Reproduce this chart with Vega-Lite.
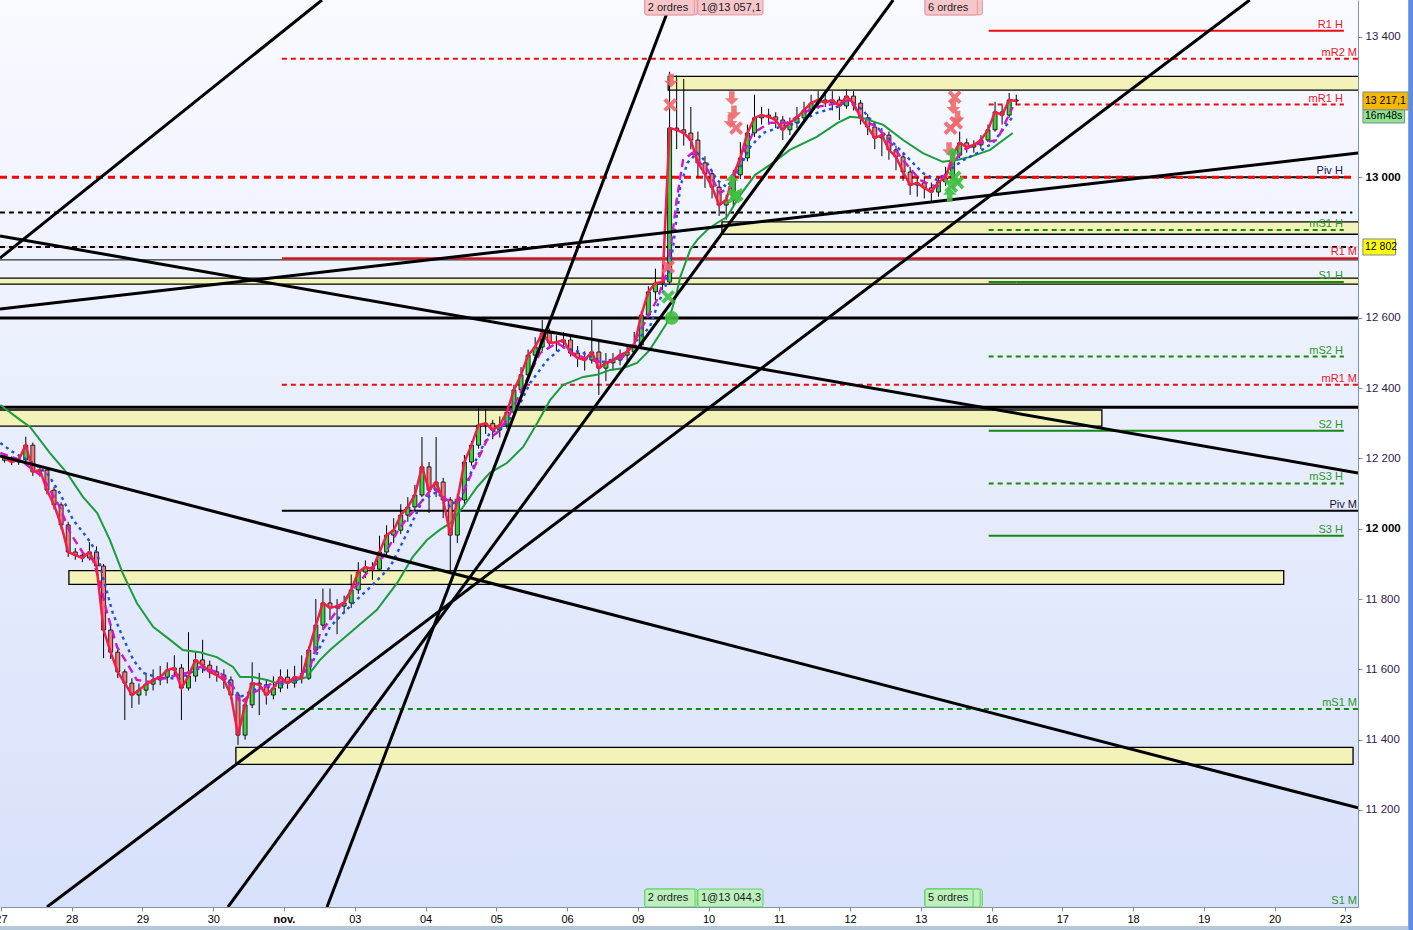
{
  "$schema": "https://vega.github.io/schema/vega-lite/v6.json",
  "description": "DAX-style intraday chart with pivot levels, zones, trend lines and moving averages",
  "width": 1358,
  "height": 907,
  "autosize": {"type": "none"},
  "padding": {"left": 0, "top": 0, "right": 55, "bottom": 23},
  "background": "#ffffff",
  "config": {"view": {"stroke": null}, "font": "Liberation Sans", "scale": {"continuousPadding": 0}},
  "datasets": {
    "candles": [
      {"t":0.05,"o":12195,"h":12212,"l":12188,"c":12201},
      {"t":0.15,"o":12201,"h":12206,"l":12181,"c":12190},
      {"t":0.25,"o":12190,"h":12205,"l":12182,"c":12196},
      {"t":0.35,"o":12196,"h":12262,"l":12192,"c":12238},
      {"t":0.45,"o":12238,"h":12245,"l":12150,"c":12162},
      {"t":0.55,"o":12162,"h":12180,"l":12148,"c":12167},
      {"t":0.65,"o":12167,"h":12172,"l":12098,"c":12110},
      {"t":0.75,"o":12110,"h":12120,"l":12055,"c":12068},
      {"t":0.85,"o":12068,"h":12075,"l":11998,"c":12011},
      {"t":0.95,"o":12011,"h":12020,"l":11920,"c":11934},
      {"t":1.05,"o":11934,"h":11945,"l":11912,"c":11925},
      {"t":1.15,"o":11925,"h":11935,"l":11905,"c":11917},
      {"t":1.25,"o":11917,"h":11962,"l":11910,"c":11934},
      {"t":1.35,"o":11934,"h":11950,"l":11880,"c":11894},
      {"t":1.45,"o":11894,"h":11900,"l":11632,"c":11712},
      {"t":1.55,"o":11712,"h":11730,"l":11630,"c":11649},
      {"t":1.65,"o":11649,"h":11660,"l":11575,"c":11593},
      {"t":1.75,"o":11593,"h":11600,"l":11456,"c":11561},
      {"t":1.85,"o":11561,"h":11575,"l":11490,"c":11527},
      {"t":1.95,"o":11527,"h":11560,"l":11500,"c":11541},
      {"t":2.05,"o":11541,"h":11590,"l":11525,"c":11558},
      {"t":2.15,"o":11558,"h":11600,"l":11540,"c":11570},
      {"t":2.25,"o":11570,"h":11610,"l":11555,"c":11578},
      {"t":2.35,"o":11578,"h":11620,"l":11560,"c":11598},
      {"t":2.45,"o":11598,"h":11640,"l":11580,"c":11604},
      {"t":2.55,"o":11604,"h":11615,"l":11456,"c":11547},
      {"t":2.65,"o":11547,"h":11706,"l":11540,"c":11581},
      {"t":2.75,"o":11581,"h":11650,"l":11565,"c":11627},
      {"t":2.85,"o":11627,"h":11684,"l":11590,"c":11612},
      {"t":2.95,"o":11612,"h":11625,"l":11575,"c":11593},
      {"t":3.05,"o":11593,"h":11610,"l":11565,"c":11584},
      {"t":3.15,"o":11584,"h":11600,"l":11545,"c":11570},
      {"t":3.25,"o":11570,"h":11580,"l":11515,"c":11527},
      {"t":3.35,"o":11527,"h":11535,"l":11385,"c":11413},
      {"t":3.45,"o":11413,"h":11510,"l":11400,"c":11499},
      {"t":3.55,"o":11499,"h":11620,"l":11490,"c":11561},
      {"t":3.65,"o":11561,"h":11590,"l":11470,"c":11556},
      {"t":3.75,"o":11556,"h":11570,"l":11500,"c":11527},
      {"t":3.85,"o":11527,"h":11580,"l":11515,"c":11547},
      {"t":3.95,"o":11547,"h":11600,"l":11535,"c":11578},
      {"t":4.05,"o":11578,"h":11600,"l":11545,"c":11561},
      {"t":4.15,"o":11561,"h":11610,"l":11548,"c":11578},
      {"t":4.25,"o":11578,"h":11640,"l":11560,"c":11575},
      {"t":4.35,"o":11575,"h":11665,"l":11570,"c":11655},
      {"t":4.45,"o":11655,"h":11800,"l":11648,"c":11726},
      {"t":4.55,"o":11726,"h":11830,"l":11715,"c":11789},
      {"t":4.65,"o":11789,"h":11830,"l":11740,"c":11775},
      {"t":4.75,"o":11775,"h":11800,"l":11700,"c":11780},
      {"t":4.85,"o":11780,"h":11810,"l":11760,"c":11789},
      {"t":4.95,"o":11789,"h":11870,"l":11775,"c":11826},
      {"t":5.05,"o":11826,"h":11905,"l":11815,"c":11877},
      {"t":5.15,"o":11877,"h":11910,"l":11860,"c":11891},
      {"t":5.25,"o":11891,"h":11905,"l":11855,"c":11885},
      {"t":5.35,"o":11885,"h":11980,"l":11880,"c":11934},
      {"t":5.45,"o":11934,"h":12010,"l":11925,"c":11982},
      {"t":5.55,"o":11982,"h":12030,"l":11960,"c":11996},
      {"t":5.65,"o":11996,"h":12070,"l":11985,"c":12039},
      {"t":5.75,"o":12039,"h":12090,"l":12020,"c":12062},
      {"t":5.85,"o":12062,"h":12125,"l":12050,"c":12096},
      {"t":5.95,"o":12096,"h":12261,"l":12090,"c":12176},
      {"t":6.05,"o":12176,"h":12190,"l":12045,"c":12110},
      {"t":6.15,"o":12110,"h":12261,"l":12090,"c":12133},
      {"t":6.25,"o":12133,"h":12145,"l":12030,"c":12082},
      {"t":6.35,"o":12082,"h":12090,"l":11883,"c":11982},
      {"t":6.45,"o":11982,"h":12100,"l":11960,"c":12082},
      {"t":6.55,"o":12082,"h":12210,"l":12070,"c":12190},
      {"t":6.65,"o":12190,"h":12250,"l":12180,"c":12238},
      {"t":6.75,"o":12238,"h":12345,"l":12228,"c":12295},
      {"t":6.85,"o":12295,"h":12340,"l":12270,"c":12300},
      {"t":6.95,"o":12300,"h":12310,"l":12255,"c":12281},
      {"t":7.05,"o":12281,"h":12320,"l":12260,"c":12295},
      {"t":7.15,"o":12295,"h":12345,"l":12285,"c":12332},
      {"t":7.25,"o":12332,"h":12410,"l":12320,"c":12395},
      {"t":7.35,"o":12395,"h":12460,"l":12385,"c":12438},
      {"t":7.45,"o":12438,"h":12510,"l":12425,"c":12494},
      {"t":7.55,"o":12494,"h":12545,"l":12480,"c":12517},
      {"t":7.65,"o":12517,"h":12594,"l":12505,"c":12557},
      {"t":7.75,"o":12557,"h":12570,"l":12515,"c":12529},
      {"t":7.85,"o":12529,"h":12550,"l":12505,"c":12531},
      {"t":7.95,"o":12531,"h":12560,"l":12515,"c":12537},
      {"t":8.05,"o":12537,"h":12550,"l":12490,"c":12500},
      {"t":8.15,"o":12500,"h":12520,"l":12460,"c":12486},
      {"t":8.25,"o":12486,"h":12505,"l":12450,"c":12480},
      {"t":8.35,"o":12480,"h":12594,"l":12470,"c":12503},
      {"t":8.45,"o":12503,"h":12540,"l":12381,"c":12457},
      {"t":8.55,"o":12457,"h":12500,"l":12420,"c":12472},
      {"t":8.65,"o":12472,"h":12500,"l":12450,"c":12480},
      {"t":8.75,"o":12480,"h":12510,"l":12465,"c":12494},
      {"t":8.85,"o":12494,"h":12520,"l":12475,"c":12503},
      {"t":8.95,"o":12503,"h":12560,"l":12495,"c":12523},
      {"t":9.05,"o":12523,"h":12620,"l":12515,"c":12608},
      {"t":9.15,"o":12608,"h":12690,"l":12600,"c":12674},
      {"t":9.25,"o":12674,"h":12740,"l":12650,"c":12699},
      {"t":9.35,"o":12699,"h":12756,"l":12680,"c":12702},
      {"t":9.45,"o":12702,"h":13300,"l":12695,"c":13140},
      {"t":9.55,"o":13140,"h":13290,"l":13080,"c":13135},
      {"t":9.65,"o":13135,"h":13280,"l":13090,"c":13126},
      {"t":9.75,"o":13126,"h":13200,"l":13080,"c":13106},
      {"t":9.85,"o":13106,"h":13130,"l":13000,"c":13041},
      {"t":9.95,"o":13041,"h":13060,"l":12970,"c":13010},
      {"t":10.05,"o":13010,"h":13020,"l":12940,"c":12972},
      {"t":10.15,"o":12972,"h":12985,"l":12890,"c":12921},
      {"t":10.25,"o":12921,"h":12950,"l":12879,"c":12935},
      {"t":10.35,"o":12935,"h":13020,"l":12920,"c":13007},
      {"t":10.45,"o":13007,"h":13100,"l":12995,"c":13055},
      {"t":10.55,"o":13055,"h":13150,"l":13045,"c":13126},
      {"t":10.65,"o":13126,"h":13235,"l":13115,"c":13169},
      {"t":10.75,"o":13169,"h":13200,"l":13150,"c":13177},
      {"t":10.85,"o":13177,"h":13195,"l":13150,"c":13172},
      {"t":10.95,"o":13172,"h":13185,"l":13140,"c":13163},
      {"t":11.05,"o":13163,"h":13175,"l":13106,"c":13135},
      {"t":11.15,"o":13135,"h":13170,"l":13120,"c":13155},
      {"t":11.25,"o":13155,"h":13200,"l":13140,"c":13169},
      {"t":11.35,"o":13169,"h":13215,"l":13160,"c":13191},
      {"t":11.45,"o":13191,"h":13235,"l":13180,"c":13211},
      {"t":11.55,"o":13211,"h":13245,"l":13195,"c":13220},
      {"t":11.65,"o":13220,"h":13240,"l":13200,"c":13212},
      {"t":11.75,"o":13212,"h":13245,"l":13190,"c":13220},
      {"t":11.85,"o":13220,"h":13230,"l":13163,"c":13203},
      {"t":11.95,"o":13203,"h":13250,"l":13195,"c":13231},
      {"t":12.05,"o":13231,"h":13245,"l":13190,"c":13211},
      {"t":12.15,"o":13211,"h":13220,"l":13150,"c":13169},
      {"t":12.25,"o":13169,"h":13180,"l":13120,"c":13143},
      {"t":12.35,"o":13143,"h":13150,"l":13080,"c":13112},
      {"t":12.45,"o":13112,"h":13140,"l":13060,"c":13120},
      {"t":12.55,"o":13120,"h":13130,"l":13050,"c":13078},
      {"t":12.65,"o":13078,"h":13090,"l":13020,"c":13058},
      {"t":12.75,"o":13058,"h":13070,"l":12990,"c":13015},
      {"t":12.85,"o":13015,"h":13030,"l":12950,"c":12978},
      {"t":12.95,"o":12978,"h":13000,"l":12945,"c":12984},
      {"t":13.05,"o":12984,"h":13000,"l":12940,"c":12970},
      {"t":13.15,"o":12970,"h":12985,"l":12930,"c":12958},
      {"t":13.25,"o":12958,"h":13000,"l":12945,"c":12987},
      {"t":13.35,"o":12987,"h":13030,"l":12975,"c":12998},
      {"t":13.45,"o":12998,"h":13075,"l":12990,"c":13063},
      {"t":13.55,"o":13063,"h":13130,"l":13055,"c":13098},
      {"t":13.65,"o":13098,"h":13110,"l":13070,"c":13086},
      {"t":13.75,"o":13086,"h":13105,"l":13070,"c":13092},
      {"t":13.85,"o":13092,"h":13120,"l":13080,"c":13106},
      {"t":13.95,"o":13106,"h":13150,"l":13100,"c":13135},
      {"t":14.05,"o":13135,"h":13215,"l":13130,"c":13186},
      {"t":14.15,"o":13186,"h":13205,"l":13150,"c":13177},
      {"t":14.25,"o":13177,"h":13240,"l":13170,"c":13220},
      {"t":14.35,"o":13220,"h":13235,"l":13205,"c":13217}
    ],
    "ma": [
      {"s":"g","t":-0.01,"v":12352},{"s":"g","t":0.27,"v":12310},{"s":"g","t":0.41,"v":12290},{"s":"g","t":0.69,"v":12216},
      {"s":"g","t":0.93,"v":12159},{"s":"g","t":1.16,"v":12090},{"s":"g","t":1.36,"v":12045},{"s":"g","t":1.54,"v":11968},
      {"s":"g","t":1.72,"v":11874},{"s":"g","t":1.92,"v":11789},{"s":"g","t":2.15,"v":11721},{"s":"g","t":2.39,"v":11684},
      {"s":"g","t":2.57,"v":11655},{"s":"g","t":2.81,"v":11649},{"s":"g","t":3.05,"v":11635},{"s":"g","t":3.28,"v":11607},
      {"s":"g","t":3.38,"v":11578},{"s":"g","t":3.56,"v":11578},{"s":"g","t":3.76,"v":11570},{"s":"g","t":3.9,"v":11561},
      {"s":"g","t":4.08,"v":11564},{"s":"g","t":4.32,"v":11578},{"s":"g","t":4.51,"v":11627},{"s":"g","t":4.65,"v":11655},
      {"s":"g","t":4.98,"v":11712},{"s":"g","t":5.31,"v":11769},{"s":"g","t":5.6,"v":11846},{"s":"g","t":5.82,"v":11920},
      {"s":"g","t":6.02,"v":11968},{"s":"g","t":6.2,"v":11997},{"s":"g","t":6.35,"v":12016},{"s":"g","t":6.53,"v":12062},
      {"s":"g","t":6.73,"v":12119},{"s":"g","t":6.91,"v":12159},{"s":"g","t":7.15,"v":12187},{"s":"g","t":7.38,"v":12233},
      {"s":"g","t":7.58,"v":12301},{"s":"g","t":7.76,"v":12366},{"s":"g","t":7.94,"v":12409},{"s":"g","t":8.23,"v":12432},
      {"s":"g","t":8.42,"v":12438},{"s":"g","t":8.61,"v":12452},{"s":"g","t":8.79,"v":12457},{"s":"g","t":8.99,"v":12472},
      {"s":"g","t":9.17,"v":12509},{"s":"g","t":9.41,"v":12585},{"s":"g","t":9.48,"v":12622},{"s":"g","t":9.55,"v":12671},
      {"s":"g","t":9.6,"v":12716},{"s":"g","t":9.74,"v":12793},{"s":"g","t":9.84,"v":12822},{"s":"g","t":9.98,"v":12850},
      {"s":"g","t":10.12,"v":12870},{"s":"g","t":10.26,"v":12887},{"s":"g","t":10.45,"v":12950},{"s":"g","t":10.66,"v":13007},
      {"s":"g","t":10.91,"v":13041},{"s":"g","t":11.15,"v":13078},{"s":"g","t":11.53,"v":13115},{"s":"g","t":11.82,"v":13154},
      {"s":"g","t":12.0,"v":13172},{"s":"g","t":12.18,"v":13169},{"s":"g","t":12.47,"v":13149},{"s":"g","t":12.75,"v":13106},
      {"s":"g","t":13.03,"v":13069},{"s":"g","t":13.31,"v":13044},{"s":"g","t":13.51,"v":13049},{"s":"g","t":13.7,"v":13058},
      {"s":"g","t":13.98,"v":13078},{"s":"g","t":14.3,"v":13126},
      {"s":"b","t":-0.01,"v":12244},{"s":"b","t":0.17,"v":12218},{"s":"b","t":0.45,"v":12187},{"s":"b","t":0.65,"v":12159},
      {"s":"b","t":0.83,"v":12102},{"s":"b","t":1.02,"v":12025},{"s":"b","t":1.22,"v":11974},{"s":"b","t":1.36,"v":11931},
      {"s":"b","t":1.44,"v":11863},{"s":"b","t":1.58,"v":11760},{"s":"b","t":1.72,"v":11692},{"s":"b","t":1.87,"v":11627},
      {"s":"b","t":2.01,"v":11590},{"s":"b","t":2.25,"v":11575},{"s":"b","t":2.53,"v":11575},{"s":"b","t":2.81,"v":11604},
      {"s":"b","t":3.05,"v":11584},{"s":"b","t":3.24,"v":11561},{"s":"b","t":3.38,"v":11521},{"s":"b","t":3.56,"v":11541},
      {"s":"b","t":3.76,"v":11550},{"s":"b","t":3.94,"v":11556},{"s":"b","t":4.18,"v":11570},{"s":"b","t":4.37,"v":11607},
      {"s":"b","t":4.51,"v":11664},{"s":"b","t":4.65,"v":11721},{"s":"b","t":4.98,"v":11789},{"s":"b","t":5.22,"v":11834},
      {"s":"b","t":5.5,"v":11891},{"s":"b","t":5.74,"v":11988},{"s":"b","t":5.96,"v":12082},{"s":"b","t":6.16,"v":12105},
      {"s":"b","t":6.35,"v":12062},{"s":"b","t":6.53,"v":12102},{"s":"b","t":6.73,"v":12204},{"s":"b","t":6.91,"v":12273},
      {"s":"b","t":7.1,"v":12290},{"s":"b","t":7.29,"v":12338},{"s":"b","t":7.48,"v":12415},{"s":"b","t":7.72,"v":12480},
      {"s":"b","t":7.94,"v":12517},{"s":"b","t":8.23,"v":12500},{"s":"b","t":8.51,"v":12475},{"s":"b","t":8.79,"v":12489},
      {"s":"b","t":8.99,"v":12537},{"s":"b","t":9.17,"v":12574},{"s":"b","t":9.27,"v":12631},{"s":"b","t":9.41,"v":12699},
      {"s":"b","t":9.5,"v":12802},{"s":"b","t":9.55,"v":12887},{"s":"b","t":9.6,"v":12972},{"s":"b","t":9.7,"v":13041},
      {"s":"b","t":9.84,"v":13069},{"s":"b","t":9.98,"v":13041},{"s":"b","t":10.12,"v":12992},{"s":"b","t":10.26,"v":12972},
      {"s":"b","t":10.4,"v":13012},{"s":"b","t":10.59,"v":13086},{"s":"b","t":10.77,"v":13126},{"s":"b","t":11.01,"v":13143},
      {"s":"b","t":11.25,"v":13154},{"s":"b","t":11.53,"v":13183},{"s":"b","t":11.82,"v":13200},{"s":"b","t":12.0,"v":13220},
      {"s":"b","t":12.18,"v":13191},{"s":"b","t":12.38,"v":13143},{"s":"b","t":12.61,"v":13098},{"s":"b","t":12.85,"v":13049},
      {"s":"b","t":13.03,"v":13012},{"s":"b","t":13.23,"v":12992},{"s":"b","t":13.41,"v":13021},{"s":"b","t":13.6,"v":13049},
      {"s":"b","t":13.8,"v":13069},{"s":"b","t":14.02,"v":13098},{"s":"b","t":14.3,"v":13172},
      {"s":"m","t":-0.01,"v":12216},{"s":"m","t":0.27,"v":12196},{"s":"m","t":0.59,"v":12147},{"s":"m","t":0.83,"v":12062},
      {"s":"m","t":0.98,"v":11988},{"s":"m","t":1.16,"v":11931},{"s":"m","t":1.3,"v":11911},{"s":"m","t":1.4,"v":11846},
      {"s":"m","t":1.5,"v":11760},{"s":"m","t":1.64,"v":11664},{"s":"m","t":1.78,"v":11618},{"s":"m","t":1.92,"v":11570},
      {"s":"m","t":2.11,"v":11564},{"s":"m","t":2.35,"v":11578},{"s":"m","t":2.63,"v":11590},{"s":"m","t":2.81,"v":11607},
      {"s":"m","t":3.1,"v":11590},{"s":"m","t":3.28,"v":11550},{"s":"m","t":3.38,"v":11504},{"s":"m","t":3.56,"v":11533},
      {"s":"m","t":3.84,"v":11561},{"s":"m","t":4.13,"v":11570},{"s":"m","t":4.37,"v":11607},{"s":"m","t":4.51,"v":11703},
      {"s":"m","t":4.65,"v":11740},{"s":"m","t":4.89,"v":11806},{"s":"m","t":5.17,"v":11874},{"s":"m","t":5.4,"v":11920},
      {"s":"m","t":5.64,"v":12005},{"s":"m","t":5.88,"v":12062},{"s":"m","t":6.11,"v":12119},{"s":"m","t":6.3,"v":12082},
      {"s":"m","t":6.49,"v":12082},{"s":"m","t":6.67,"v":12167},{"s":"m","t":6.87,"v":12253},{"s":"m","t":7.01,"v":12273},
      {"s":"m","t":7.15,"v":12310},{"s":"m","t":7.38,"v":12403},{"s":"m","t":7.62,"v":12500},{"s":"m","t":7.86,"v":12529},
      {"s":"m","t":8.08,"v":12500},{"s":"m","t":8.33,"v":12480},{"s":"m","t":8.57,"v":12472},{"s":"m","t":8.79,"v":12489},
      {"s":"m","t":8.99,"v":12546},{"s":"m","t":9.17,"v":12614},{"s":"m","t":9.27,"v":12651},{"s":"m","t":9.41,"v":12728},
      {"s":"m","t":9.48,"v":12822},{"s":"m","t":9.55,"v":12935},{"s":"m","t":9.64,"v":13049},{"s":"m","t":9.77,"v":13069},
      {"s":"m","t":9.88,"v":13041},{"s":"m","t":9.99,"v":13021},{"s":"m","t":10.16,"v":12955},{"s":"m","t":10.3,"v":12972},
      {"s":"m","t":10.49,"v":13069},{"s":"m","t":10.63,"v":13126},{"s":"m","t":10.87,"v":13155},{"s":"m","t":11.11,"v":13155},
      {"s":"m","t":11.34,"v":13183},{"s":"m","t":11.53,"v":13200},{"s":"m","t":11.82,"v":13211},{"s":"m","t":12.0,"v":13220},
      {"s":"m","t":12.18,"v":13163},{"s":"m","t":12.38,"v":13143},{"s":"m","t":12.57,"v":13098},{"s":"m","t":12.75,"v":13049},
      {"s":"m","t":12.99,"v":12992},{"s":"m","t":13.23,"v":12972},{"s":"m","t":13.41,"v":13029},{"s":"m","t":13.6,"v":13078},
      {"s":"m","t":13.84,"v":13098},{"s":"m","t":14.08,"v":13106},{"s":"m","t":14.3,"v":13200}
    ],
    "levels": [
      {"lab":"","k":"thin","t0":-0.0141,"t1":19.18,"v":12765},
      {"lab":"","k":"pink","t0":-0.0141,"t1":19.18,"v":12802},
      {"lab":"R1 H","k":"res","t0":13.96,"t1":18.98,"v":13417},
      {"lab":"mR2 M","k":"resd","t0":3.97,"t1":19.18,"v":13337},
      {"lab":"mR1 H","k":"resd","t0":13.96,"t1":18.98,"v":13207},
      {"lab":"Piv H","k":"piv","t0":13.96,"t1":18.98,"v":13000},
      {"lab":"","k":"blkd","t0":-0.0141,"t1":19.1,"v":12900},
      {"lab":"mS1 H","k":"supd","t0":13.96,"t1":18.98,"v":12850},
      {"lab":"","k":"blkd","t0":-0.0141,"t1":19.1,"v":12802},
      {"lab":"R1 M","k":"res","t0":3.97,"t1":19.18,"v":12770},
      {"lab":"S1 H","k":"sup","t0":13.96,"t1":18.98,"v":12702},
      {"lab":"mS2 H","k":"supd","t0":13.96,"t1":18.98,"v":12490},
      {"lab":"mR1 M","k":"resd","t0":3.97,"t1":19.18,"v":12410},
      {"lab":"S2 H","k":"sup","t0":13.96,"t1":18.98,"v":12279},
      {"lab":"mS3 H","k":"supd","t0":13.96,"t1":18.98,"v":12129},
      {"lab":"Piv M","k":"piv","t0":3.97,"t1":19.18,"v":12051},
      {"lab":"S3 H","k":"sup","t0":13.96,"t1":18.98,"v":11980},
      {"lab":"mS1 M","k":"supd","t0":3.97,"t1":19.18,"v":11487},
      {"lab":"S1 M","k":"sup","t0":19.18,"t1":19.18,"v":10924},
      {"lab":"","k":"resd3","t0":-0.0141,"t1":19.1,"v":13000},
      {"lab":"","k":"thick","t0":-0.0141,"t1":19.18,"v":12600},
      {"lab":"","k":"thick","t0":-0.0141,"t1":19.18,"v":12346}
    ],
    "zones": [
      {"t0":9.43,"t1":19.6,"v0":13248,"v1":13287},
      {"t0":10.19,"t1":19.6,"v0":12838,"v1":12873},
      {"t0":-0.05,"t1":19.6,"v0":12696,"v1":12713},
      {"t0":-0.05,"t1":15.56,"v0":12292,"v1":12338},
      {"t0":0.96,"t1":18.13,"v0":11842,"v1":11881},
      {"t0":3.32,"t1":19.11,"v0":11330,"v1":11378}
    ],
    "trends": [
      {"id":"A","t":-0.0141,"v":12770},{"id":"A","t":4.537,"v":13504.4},
      {"id":"B","t":-0.0141,"v":12833},{"id":"B","t":19.18,"v":12159},
      {"id":"C","t":-0.0141,"v":12625},{"id":"C","t":19.18,"v":13069},
      {"id":"D","t":-0.0141,"v":12207},{"id":"D","t":19.18,"v":11206},
      {"id":"E","t":0.65,"v":10924},{"id":"E","t":17.65,"v":13504.4},
      {"id":"F","t":3.208,"v":10924},{"id":"F","t":12.61,"v":13504.4},
      {"id":"G","t":4.608,"v":10924},{"id":"G","t":9.484,"v":13504.4}
    ],
    "signals": [
      {"g":"sd","t":9.47,"v":13275},{"g":"sx","t":9.46,"v":13206},{"g":"sx","t":9.43,"v":12745},
      {"g":"sd","t":10.33,"v":13225},{"g":"sd","t":10.36,"v":13185},{"g":"sd","t":10.31,"v":13160},{"g":"sx","t":10.39,"v":13140},
      {"g":"sx","t":13.48,"v":13228},{"g":"sd","t":13.46,"v":13200},{"g":"sd","t":13.52,"v":13170},{"g":"sx","t":13.42,"v":13140},
      {"g":"sx","t":13.5,"v":13155},{"g":"sd","t":13.4,"v":13080},
      {"g":"bx","t":9.43,"v":12660},{"g":"bo","t":9.48,"v":12600},
      {"g":"bu","t":10.33,"v":12990},{"g":"bx","t":10.36,"v":12945},{"g":"bx","t":10.4,"v":12950},
      {"g":"bu","t":13.45,"v":13065},{"g":"bx","t":13.48,"v":13000},{"g":"bx","t":13.43,"v":12975},
      {"g":"bu","t":13.41,"v":12950},{"g":"bx","t":13.52,"v":12985}
    ],
    "orders": [
      {"p":"top","lab":"","t0":9.1,"t1":9.84,"v0":13462,"v1":13508,"vt":13483},
      {"p":"top","lab":"2 ordres","t0":9.1,"t1":9.8,"v0":13462,"v1":13508,"vt":13483},
      {"p":"top","lab":"1@13 057,1","t0":9.85,"t1":10.77,"v0":13462,"v1":13508,"vt":13483},
      {"p":"top","lab":"","t0":13.06,"t1":13.87,"v0":13462,"v1":13508,"vt":13483},
      {"p":"top","lab":"6 ordres","t0":13.06,"t1":13.8,"v0":13462,"v1":13508,"vt":13483},
      {"p":"bot","lab":"","t0":9.1,"t1":9.84,"v0":10924,"v1":10975,"vt":10950},
      {"p":"bot","lab":"2 ordres","t0":9.1,"t1":9.81,"v0":10924,"v1":10975,"vt":10950},
      {"p":"bot","lab":"1@13 044,3","t0":9.85,"t1":10.77,"v0":10924,"v1":10975,"vt":10950},
      {"p":"bot","lab":"","t0":13.06,"t1":13.87,"v0":10924,"v1":10975,"vt":10950},
      {"p":"bot","lab":"","t0":13.06,"t1":13.84,"v0":10924,"v1":10975,"vt":10950},
      {"p":"bot","lab":"5 ordres","t0":13.06,"t1":13.74,"v0":10924,"v1":10975,"vt":10950}
    ],
    "tags": [
      {"id":"last","lab":"13 217,1","t0":19.25,"t1":19.89,"v0":13191.5,"v1":13242.7,"vc":13217},
      {"id":"timer","lab":"16m48s","t0":19.25,"t1":19.84,"v0":13154.5,"v1":13191.5,"vc":13173},
      {"id":"mark","lab":"12 802","t0":19.25,"t1":19.71,"v0":12779,"v1":12824.5,"vc":12802}
    ]
  },
  "layer": [
    {
      "data": {"values": [{"t0": -0.0141, "t1": 19.18, "v0": 10924, "v1": 13504.4}]},
      "mark": {"type": "rect", "color": {"gradient": "linear", "x1": 0, "y1": 0, "x2": 0, "y2": 1, "stops": [{"offset": 0, "color": "#f8faff"}, {"offset": 1, "color": "#d8e1fb"}]}},
      "encoding": {
        "x": {"field": "t0", "type": "quantitative", "scale": {"domain": [-0.0141, 19.18], "nice": false, "zero": false, "padding": 0},
          "axis": {"orient": "bottom", "values": [0,1,2,3,4,5,6,7,8,9,10,11,12,13,14,15,16,17,18,19], "title": null, "grid": false,
            "domainColor": "#7f93a6", "tickColor": "#7f93a6", "tickSize": 4, "labelPadding": 2, "labelFlush": false, "labelOverlap": false,
            "labelFont": "Liberation Sans", "labelFontSize": 11, "labelColor": "#000000",
            "labelFontWeight": {"condition": {"test": "datum.value == 4", "value": "bold"}, "value": "normal"},
            "labelExpr": "['27','28','29','30','nov.','03','04','05','06','09','10','11','12','13','16','17','18','19','20','23'][datum.value]",
            "zindex": 1}},
        "x2": {"field": "t1"},
        "y": {"field": "v0", "type": "quantitative", "scale": {"domain": [10924, 13504.4], "nice": false, "zero": false, "padding": 0},
          "axis": {"orient": "right", "values": [11200,11400,11600,11800,12000,12200,12400,12600,13000,13400], "title": null, "grid": false,
            "domainColor": "#7f93a6", "tickColor": "#7f93a6", "tickSize": 4, "labelPadding": 3,
            "labelFont": "Liberation Sans", "labelFontSize": 11.5,
            "labelColor": {"condition": {"test": "datum.value % 1000 == 0", "value": "#000000"}, "value": "#33184f"},
            "labelFontWeight": {"condition": {"test": "datum.value % 1000 == 0", "value": "bold"}, "value": "normal"},
            "labelExpr": "replace(format(datum.value, ','), ',', ' ')",
            "zindex": 1}},
        "y2": {"field": "v1"}
      }
    },
    {
      "data": {"name": "zones"},
      "mark": {"type": "rect", "fill": "#f3f3b9", "stroke": "#000000", "strokeWidth": 1.3, "clip": true},
      "encoding": {
        "x": {"field": "t0", "type": "quantitative", "scale": {"domain": [-0.0141, 19.18], "nice": false, "zero": false, "padding": 0}},
        "x2": {"field": "t1"},
        "y": {"field": "v0", "type": "quantitative", "scale": {"domain": [10924, 13504.4], "nice": false, "zero": false, "padding": 0}},
        "y2": {"field": "v1"}
      }
    },
    {
      "data": {"name": "levels"},
      "transform": [{"filter": "datum.k == 'thin' || datum.k == 'pink'"}],
      "mark": {"type": "rule", "strokeWidth": 1},
      "encoding": {
        "x": {"field": "t0", "type": "quantitative", "scale": {"domain": [-0.0141, 19.18], "nice": false, "zero": false, "padding": 0}},
        "x2": {"field": "t1"},
        "y": {"field": "v", "type": "quantitative", "scale": {"domain": [10924, 13504.4], "nice": false, "zero": false, "padding": 0}},
        "color": {"field": "k", "type": "nominal", "legend": null, "scale": {"domain": ["res","resd","resd3","sup","supd","piv","blkd","thin","thick","pink"], "range": ["#f00a14","#f00a14","#ff0000","#138a13","#138a13","#000000","#000000","#000000","#000000","#f4a3ac"]}}
      }
    },
    {
      "data": {"name": "levels"},
      "transform": [{"filter": "datum.k != 'thin' && datum.k != 'pink' && datum.k != 'thick' && datum.k != 'resd3'"}],
      "mark": {"type": "rule", "strokeWidth": 2},
      "encoding": {
        "x": {"field": "t0", "type": "quantitative", "scale": {"domain": [-0.0141, 19.18], "nice": false, "zero": false, "padding": 0}},
        "x2": {"field": "t1"},
        "y": {"field": "v", "type": "quantitative", "scale": {"domain": [10924, 13504.4], "nice": false, "zero": false, "padding": 0}},
        "color": {"field": "k", "type": "nominal", "legend": null, "scale": {"domain": ["res","resd","resd3","sup","supd","piv","blkd","thin","thick","pink"], "range": ["#f00a14","#f00a14","#ff0000","#138a13","#138a13","#000000","#000000","#000000","#000000","#f4a3ac"]}},
        "strokeDash": {"field": "k", "type": "nominal", "legend": null, "scale": {"domain": ["res","resd","resd3","sup","supd","piv","blkd","thin","thick","pink"], "range": [[1,0],[5,4],[7,5],[1,0],[5,4],[1,0],[5,4],[1,0],[1,0],[1,0]]}}
      }
    },
    {
      "data": {"name": "levels"},
      "transform": [{"filter": "datum.k == 'thick' || datum.k == 'resd3'"}],
      "mark": {"type": "rule", "strokeWidth": 3},
      "encoding": {
        "x": {"field": "t0", "type": "quantitative", "scale": {"domain": [-0.0141, 19.18], "nice": false, "zero": false, "padding": 0}},
        "x2": {"field": "t1"},
        "y": {"field": "v", "type": "quantitative", "scale": {"domain": [10924, 13504.4], "nice": false, "zero": false, "padding": 0}},
        "color": {"field": "k", "type": "nominal", "legend": null, "scale": {"domain": ["res","resd","resd3","sup","supd","piv","blkd","thin","thick","pink"], "range": ["#f00a14","#f00a14","#ff0000","#138a13","#138a13","#000000","#000000","#000000","#000000","#f4a3ac"]}},
        "strokeDash": {"field": "k", "type": "nominal", "legend": null, "scale": {"domain": ["res","resd","resd3","sup","supd","piv","blkd","thin","thick","pink"], "range": [[1,0],[5,4],[7,5],[1,0],[5,4],[1,0],[5,4],[1,0],[1,0],[1,0]]}}
      }
    },
    {
      "data": {"name": "candles"},
      "mark": {"type": "rule", "color": "#000000", "strokeWidth": 1},
      "encoding": {
        "x": {"field": "t", "type": "quantitative", "scale": {"domain": [-0.0141, 19.18], "nice": false, "zero": false, "padding": 0}},
        "y": {"field": "l", "type": "quantitative", "scale": {"domain": [10924, 13504.4], "nice": false, "zero": false, "padding": 0}},
        "y2": {"field": "h"}
      }
    },
    {
      "data": {"name": "candles"},
      "mark": {"type": "bar", "width": 4, "stroke": "#000000", "strokeWidth": 0.8},
      "encoding": {
        "x": {"field": "t", "type": "quantitative", "scale": {"domain": [-0.0141, 19.18], "nice": false, "zero": false, "padding": 0}},
        "y": {"field": "o", "type": "quantitative", "scale": {"domain": [10924, 13504.4], "nice": false, "zero": false, "padding": 0}},
        "y2": {"field": "c"},
        "fill": {"condition": {"test": "datum.c >= datum.o", "value": "#3ccf3c"}, "value": "#f27a7a"}
      }
    },
    {
      "data": {"name": "ma"},
      "transform": [{"filter": "datum.s == 'g'"}],
      "mark": {"type": "line", "color": "#1c9c3c", "strokeWidth": 2, "clip": true},
      "encoding": {
        "x": {"field": "t", "type": "quantitative", "scale": {"domain": [-0.0141, 19.18], "nice": false, "zero": false, "padding": 0}},
        "y": {"field": "v", "type": "quantitative", "scale": {"domain": [10924, 13504.4], "nice": false, "zero": false, "padding": 0}}
      }
    },
    {
      "data": {"name": "ma"},
      "transform": [{"filter": "datum.s == 'b'"}],
      "mark": {"type": "line", "color": "#1f4fe0", "strokeWidth": 2.4, "strokeDash": [3, 4], "clip": true},
      "encoding": {
        "x": {"field": "t", "type": "quantitative", "scale": {"domain": [-0.0141, 19.18], "nice": false, "zero": false, "padding": 0}},
        "y": {"field": "v", "type": "quantitative", "scale": {"domain": [10924, 13504.4], "nice": false, "zero": false, "padding": 0}}
      }
    },
    {
      "data": {"name": "ma"},
      "transform": [{"filter": "datum.s == 'm'"}],
      "mark": {"type": "line", "color": "#cc19cc", "strokeWidth": 2.4, "strokeDash": [8, 5], "clip": true},
      "encoding": {
        "x": {"field": "t", "type": "quantitative", "scale": {"domain": [-0.0141, 19.18], "nice": false, "zero": false, "padding": 0}},
        "y": {"field": "v", "type": "quantitative", "scale": {"domain": [10924, 13504.4], "nice": false, "zero": false, "padding": 0}}
      }
    },
    {
      "data": {"name": "candles"},
      "mark": {"type": "line", "color": "#f51d48", "strokeWidth": 2.5, "clip": true},
      "encoding": {
        "x": {"field": "t", "type": "quantitative", "scale": {"domain": [-0.0141, 19.18], "nice": false, "zero": false, "padding": 0}},
        "y": {"field": "c", "type": "quantitative", "scale": {"domain": [10924, 13504.4], "nice": false, "zero": false, "padding": 0}}
      }
    },
    {
      "data": {"name": "trends"},
      "mark": {"type": "line", "color": "#000000", "strokeWidth": 3, "clip": true},
      "encoding": {
        "x": {"field": "t", "type": "quantitative", "scale": {"domain": [-0.0141, 19.18], "nice": false, "zero": false, "padding": 0}},
        "y": {"field": "v", "type": "quantitative", "scale": {"domain": [10924, 13504.4], "nice": false, "zero": false, "padding": 0}},
        "detail": {"field": "id", "type": "nominal"}
      }
    },
    {
      "data": {"name": "signals"},
      "mark": {"type": "point", "filled": true, "opacity": 0.9, "size": 190},
      "encoding": {
        "x": {"field": "t", "type": "quantitative", "scale": {"domain": [-0.0141, 19.18], "nice": false, "zero": false, "padding": 0}},
        "y": {"field": "v", "type": "quantitative", "scale": {"domain": [10924, 13504.4], "nice": false, "zero": false, "padding": 0}},
        "shape": {"field": "g", "type": "nominal", "legend": null, "scale": {"domain": ["sx","sd","bx","bu","bo"], "range": [
          "M-1,-0.6L-0.6,-1L0,-0.4L0.6,-1L1,-0.6L0.4,0L1,0.6L0.6,1L0,0.4L-0.6,1L-1,0.6L-0.4,0Z",
          "M-0.4,-1L0.4,-1L0.4,0L1,0L0,1L-1,0L-0.4,0Z",
          "M-1,-0.6L-0.6,-1L0,-0.4L0.6,-1L1,-0.6L0.4,0L1,0.6L0.6,1L0,0.4L-0.6,1L-1,0.6L-0.4,0Z",
          "M-0.4,1L0.4,1L0.4,0L1,0L0,-1L-1,0L-0.4,0Z",
          "circle"]}},
        "color": {"field": "g", "type": "nominal", "legend": null, "scale": {"domain": ["sx","sd","bx","bu","bo"], "range": ["#f0666c","#ee6a6a","#3fbf3f","#3fbf3f","#3fbf3f"]}}
      }
    },
    {
      "data": {"name": "levels"},
      "transform": [{"filter": "datum.lab != ''"}],
      "mark": {"type": "text", "align": "right", "baseline": "bottom", "dx": -1, "dy": -1, "font": "Liberation Sans", "fontSize": 11},
      "encoding": {
        "x": {"field": "t1", "type": "quantitative", "scale": {"domain": [-0.0141, 19.18], "nice": false, "zero": false, "padding": 0}},
        "y": {"field": "v", "type": "quantitative", "scale": {"domain": [10924, 13504.4], "nice": false, "zero": false, "padding": 0}},
        "text": {"field": "lab"},
        "color": {"field": "k", "type": "nominal", "legend": null, "scale": {"domain": ["res","resd","resd3","sup","supd","piv","blkd","thin","thick","pink"], "range": ["#f0142a","#f0142a","#ff0000","#2a962a","#2a962a","#10103a","#000000","#000000","#000000","#f4a3ac"]}}
      }
    },
    {
      "data": {"name": "orders"},
      "mark": {"type": "rect", "cornerRadius": 2, "strokeWidth": 1},
      "encoding": {
        "x": {"field": "t0", "type": "quantitative", "scale": {"domain": [-0.0141, 19.18], "nice": false, "zero": false, "padding": 0}},
        "x2": {"field": "t1"},
        "y": {"field": "v0", "type": "quantitative", "scale": {"domain": [10924, 13504.4], "nice": false, "zero": false, "padding": 0}},
        "y2": {"field": "v1"},
        "fill": {"field": "p", "type": "nominal", "legend": null, "scale": {"domain": ["top", "bot"], "range": ["#f6c7ca", "#bdf0bd"]}},
        "stroke": {"field": "p", "type": "nominal", "legend": null, "scale": {"domain": ["top", "bot"], "range": ["#e0969b", "#5fcf5f"]}}
      }
    },
    {
      "data": {"name": "orders"},
      "transform": [{"filter": "datum.lab != ''"}],
      "mark": {"type": "text", "align": "left", "baseline": "middle", "dx": 3, "font": "Liberation Sans", "fontSize": 11, "color": "#1a1a1a"},
      "encoding": {
        "x": {"field": "t0", "type": "quantitative", "scale": {"domain": [-0.0141, 19.18], "nice": false, "zero": false, "padding": 0}},
        "y": {"field": "vt", "type": "quantitative", "scale": {"domain": [10924, 13504.4], "nice": false, "zero": false, "padding": 0}},
        "text": {"field": "lab"}
      }
    },
    {
      "data": {"name": "tags"},
      "mark": {"type": "rect", "stroke": "#7c8896", "strokeWidth": 1},
      "encoding": {
        "x": {"field": "t0", "type": "quantitative", "scale": {"domain": [-0.0141, 19.18], "nice": false, "zero": false, "padding": 0}},
        "x2": {"field": "t1"},
        "y": {"field": "v0", "type": "quantitative", "scale": {"domain": [10924, 13504.4], "nice": false, "zero": false, "padding": 0}},
        "y2": {"field": "v1"},
        "fill": {"field": "id", "type": "nominal", "legend": null, "scale": {"domain": ["last", "timer", "mark"], "range": ["#f5b700", "#8fe48f", "#ffff00"]}}
      }
    },
    {
      "data": {"name": "tags"},
      "mark": {"type": "text", "align": "left", "baseline": "middle", "dx": 2, "font": "Liberation Sans", "fontSize": 10.5, "color": "#000000"},
      "encoding": {
        "x": {"field": "t0", "type": "quantitative", "scale": {"domain": [-0.0141, 19.18], "nice": false, "zero": false, "padding": 0}},
        "y": {"field": "vc", "type": "quantitative", "scale": {"domain": [10924, 13504.4], "nice": false, "zero": false, "padding": 0}},
        "text": {"field": "lab"}
      }
    },
    {
      "data": {"values": [{"t0": 19.89, "t1": 19.99, "v0": 10858, "v1": 13510}]},
      "mark": {"type": "rect", "color": "#5a8ee6"},
      "encoding": {
        "x": {"field": "t0", "type": "quantitative", "scale": {"domain": [-0.0141, 19.18], "nice": false, "zero": false, "padding": 0}},
        "x2": {"field": "t1"},
        "y": {"field": "v0", "type": "quantitative", "scale": {"domain": [10924, 13504.4], "nice": false, "zero": false, "padding": 0}},
        "y2": {"field": "v1"}
      }
    },
    {
      "data": {"values": [{"t0": -0.05, "t1": 19.89, "v0": 10858, "v1": 10870}]},
      "mark": {"type": "rect", "color": "#b4c8da"},
      "encoding": {
        "x": {"field": "t0", "type": "quantitative", "scale": {"domain": [-0.0141, 19.18], "nice": false, "zero": false, "padding": 0}},
        "x2": {"field": "t1"},
        "y": {"field": "v0", "type": "quantitative", "scale": {"domain": [10924, 13504.4], "nice": false, "zero": false, "padding": 0}},
        "y2": {"field": "v1"}
      }
    }
  ],
  "resolve": {"scale": {"color": "independent", "fill": "independent", "stroke": "independent", "strokeDash": "independent", "shape": "independent"}}
}
